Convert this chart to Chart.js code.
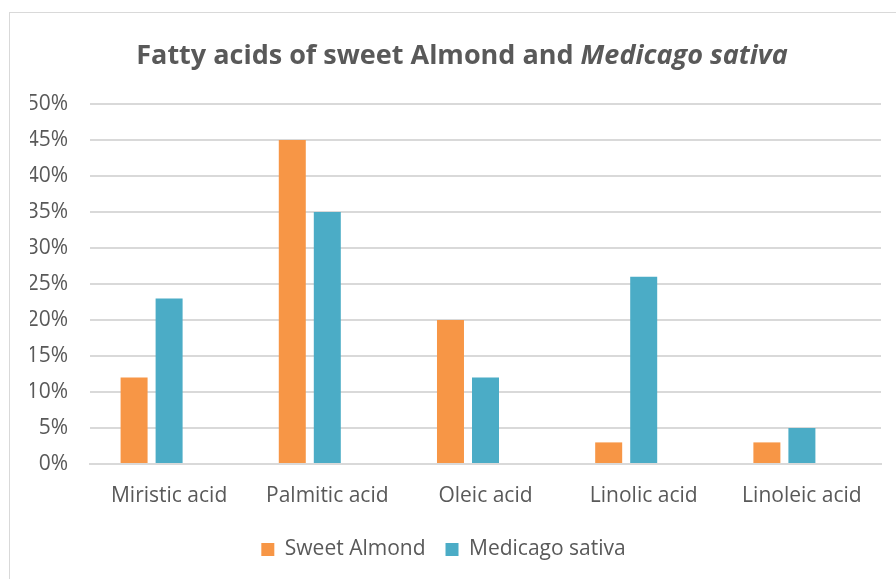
<!DOCTYPE html>
<html>
<head>
<meta charset="utf-8">
<script src="https://cdn.jsdelivr.net/npm/chart.js@4.4.1/dist/chart.umd.min.js"></script>
<style>
  html, body { margin: 0; padding: 0; background: #fff; overflow: hidden; }
  #frame { position: absolute; left: 9px; top: 12px; width: 904px; height: 580px; border: 1px solid #d9d9d9; }
  canvas { display: block; }
</style>
</head>
<body>
<div id="frame"><canvas id="chart" width="904" height="580"></canvas></div>
<script>
const categories = ['Miristic acid', 'Palmitic acid', 'Oleic acid', 'Linolic acid', 'Linoleic acid'];
const sweetAlmond = [12, 45, 20, 3, 3];
const medicagoSativa = [23, 35, 12, 26, 5];
// the sheet has a blank third column, it keeps the bars left of the label
const blankSeries = [null, null, null, null, null];
const yTicks = [0, 5, 10, 15, 20, 25, 30, 35, 40, 45, 50];

const titlePlain = 'Fatty acids of sweet Almond and ';
const titleItalic = 'Medicago sativa';

const textColor = '#595959';
const gridColor = '#d9d9d9';
const fontFamily = '"Open Sans", sans-serif';

// title with an italic species name
const richTitle = {
    id: 'richTitle',
    afterDraw(chart) {
        const ctx = chart.ctx;
        ctx.save();
        ctx.fillStyle = textColor;
        ctx.textBaseline = 'alphabetic';
        ctx.font = `bold 27px ${fontFamily}`;
        const w1 = ctx.measureText(titlePlain).width;
        ctx.font = `italic bold 27px ${fontFamily}`;
        const w2 = ctx.measureText(titleItalic).width;
        let x = chart.width / 2 - (w1 + w2) / 2;
        ctx.font = `bold 27px ${fontFamily}`;
        ctx.fillText(titlePlain, x, 51);
        ctx.font = `italic bold 27px ${fontFamily}`;
        ctx.fillText(titleItalic, x + w1, 51);
        ctx.restore();
    }
};

// legend sits a bit left of centre in the original
const legendShift = {
    id: 'legendShift',
    afterLayout(chart) {
        chart.legend.left -= 12;
        chart.legend.right -= 12;
    }
};

new Chart(document.getElementById('chart'), {
    type: 'bar',
    data: {
        labels: categories,
        datasets: [
            { label: 'Sweet Almond', data: sweetAlmond, backgroundColor: '#F79646' },
            { label: 'Medicago sativa', data: medicagoSativa, backgroundColor: '#4BACC6' },
            { label: '', data: blankSeries, backgroundColor: 'transparent' }
        ]
    },
    options: {
        responsive: false,
        animation: false,
        datasets: { bar: { categoryPercentage: 0.664, barPercentage: 0.771 } },
        layout: { padding: { top: 91, left: 20, right: 33, bottom: 23 } },
        plugins: {
            title: { display: false },
            tooltip: { enabled: false },
            legend: {
                position: 'bottom',
                labels: {
                    filter: item => item.text !== '',
                    color: textColor,
                    font: { family: fontFamily, size: 21 },
                    boxWidth: 13,
                    boxHeight: 13,
                    padding: 20
                }
            }
        },
        scales: {
            x: {
                grid: { display: false, drawTicks: false },
                border: { color: gridColor, width: 2 },
                ticks: { color: textColor, font: { family: fontFamily, size: 21 }, padding: 19, maxRotation: 0 },
                afterFit: scale => { scale.height = 55; }
            },
            y: {
                min: 0,
                max: 50,
                afterBuildTicks: scale => { scale.ticks = yTicks.map(v => ({ value: v })); },
                grid: { color: gridColor, lineWidth: 2, drawTicks: false },
                border: { display: false },
                ticks: { color: textColor, font: { family: fontFamily, size: 21 }, padding: 22, callback: v => v + '%' },
                afterFit: scale => { scale.width = 60; }
            }
        }
    },
    plugins: [richTitle, legendShift]
});
</script>
</body>
</html>
